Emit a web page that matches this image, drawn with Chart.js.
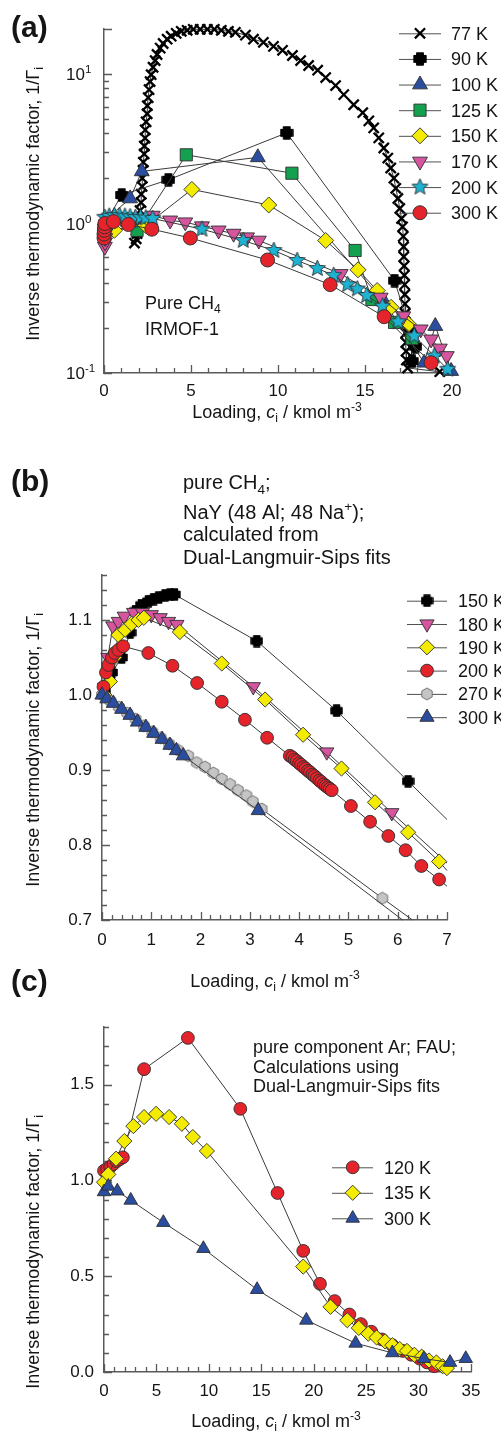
<!DOCTYPE html>
<html>
<head>
<meta charset="utf-8">
<script src="https://cdn.jsdelivr.net/npm/chart.js@4.4.1/dist/chart.umd.min.js"></script>
<style>
  html, body { margin: 0; padding: 0; background: #fff; }
  #wrap { position: relative; width: 501px; height: 1442px; overflow: hidden; background: #fff; }
  #wrap canvas { position: absolute; left: 0; top: 0; }
</style>
</head>
<body>
<div id="wrap">
  <canvas id="ca" width="501" height="1442"></canvas>
  <canvas id="cb" width="501" height="1442"></canvas>
  <canvas id="cc" width="501" height="1442"></canvas>
</div>
<script>
// ---------------------------------------------------------------
// Inverse thermodynamic factor 1/Γi versus loading ci
// (a) CH4 in IRMOF-1, (b) CH4 in NaY, (c) Ar in FAU
// ---------------------------------------------------------------

// ---- panel (a): pure CH4, IRMOF-1  [loading, 1/Γ]
const aLabels = ['77 K', '90 K', '100 K', '125 K', '150 K', '170 K', '200 K', '300 K'];
const a77K = [[1.75,0.74],[1.85,0.79],[1.90,0.857],[1.96,0.954],[2.02,1.08],[2.07,1.22],[2.13,1.38],[2.14,1.57],
  [2.19,1.77],[2.20,2.01],[2.25,2.27],[2.26,2.57],[2.31,2.92],[2.32,3.30],[2.36,3.73],[2.37,4.23],[2.42,4.79],
  [2.48,5.42],[2.49,6.14],[2.54,6.95],[2.59,7.86],[2.65,8.9],[2.71,9.9],[2.82,11.1],[2.94,12.3],[3.05,13.5],
  [3.23,14.9],[3.40,16.0],[3.63,17.1],[3.86,17.9],[4.15,18.7],[4.44,19.3],[4.78,19.6],[5.13,19.9],[5.53,19.9],
  [5.94,19.9],[6.34,19.9],[6.74,19.6],[7.15,19.3],[7.55,19.0],[8.13,18.2],[8.59,17.1],[9.16,16.3],[9.74,15.3],
  [10.26,14.4],[10.83,13.3],[11.30,12.3],[11.76,11.4],[12.28,10.6],[12.74,9.47],[13.31,8.37],[13.78,7.28],
  [14.35,6.23],[14.87,5.51],[15.22,4.86],[15.50,4.36],[15.79,3.74],[16.08,3.20],[16.31,2.74],[16.48,2.35],
  [16.66,2.01],[16.77,1.72],[16.89,1.47],[17.00,1.26],[17.10,1.08],[17.16,0.95],[17.20,0.82],[17.22,0.70],
  [17.23,0.60],[17.25,0.52],[17.26,0.45],[17.28,0.39],[17.29,0.335],[17.30,0.29],[17.31,0.25],[17.33,0.215],
  [17.34,0.185],[17.35,0.16],[17.36,0.14],[17.38,0.122],[17.45,0.108],[19.3,0.102]];
const a90K = [[0.05,1.0],[1.02,1.55],[3.7,1.96],[10.5,4.04],[16.7,0.415],[17.6,0.19],[17.7,0.12],[17.9,0.15]];
const a100K = [[0.05,1.05],[1.5,1.47],[2.17,2.23],[8.84,2.77],[16.1,0.30],[18.4,0.117],[19.04,0.206],[19.95,0.103]];
const a125K = [[0.1,0.95],[1.9,0.9],[4.73,2.88],[10.8,2.17],[14.43,0.66],[15.4,0.31],[16.7,0.218],[17.7,0.17]];
const a150K = [[0.1,0.93],[0.6,0.9],[2.4,0.97],[5.05,1.69],[9.47,1.33],[12.74,0.77],[14.6,0.49],[15.7,0.356],
  [16.5,0.275],[17.5,0.212]];
const a170K = [[0.05,0.70],[0.06,0.75],[0.07,0.80],[0.08,0.86],[0.1,0.92],[0.15,0.98],[0.4,1.05],[1.0,1.08],
  [1.8,1.1],[2.8,1.13],[3.8,1.05],[4.67,1.02],[5.63,0.96],[6.59,0.90],[7.45,0.856],[8.22,0.81],[8.9,0.77],
  [13.6,0.46],[15.9,0.32],[17.2,0.24],[18.2,0.196],[18.8,0.168],[19.3,0.146],[19.7,0.13]];
const a200K = [[0.05,1.10],[0.3,1.12],[0.6,1.13],[0.9,1.13],[1.2,1.12],[1.5,1.11],[1.8,1.10],[2.1,1.10],
  [2.4,1.09],[2.8,1.08],[5.63,0.916],[8.0,0.77],[9.76,0.66],[11.1,0.566],[12.26,0.50],[13.2,0.45],[14.0,0.39],
  [14.56,0.365],[15.1,0.33],[16.0,0.28],[16.9,0.22],[17.83,0.177],[18.98,0.13],[19.75,0.106]];
const a300K = [[0.0,0.80],[0.0,0.85],[0.02,0.90],[0.03,0.95],[0.05,1.0],[0.54,1.03],[1.4,0.985],[2.75,0.916],
  [4.96,0.80],[9.4,0.57],[13.0,0.39],[16.1,0.238],[18.8,0.117]];
const aXTicks = [0, 5, 10, 15, 20];
const aYDecades = [[0.1, '-1'], [1, '0'], [10, '1']];

// ---- panel (b): pure CH4, NaY  (third entry 0 = line end without symbol)
const bLabels = ['150 K', '180 K', '190 K', '200 K', '270 K', '300 K'];
const b150K = [[0.05,1.005],[0.2,1.03],[0.4,1.05],[0.57,1.083],[0.68,1.112],[0.8,1.12],[0.94,1.125],[1.05,1.128],
  [1.15,1.13],[1.28,1.133],[1.38,1.134],[1.47,1.134],[3.14,1.072],[4.76,0.979],[6.21,0.885],[7.0,0.834,0]];
const b180K = [[0.05,1.01],[0.12,1.05],[0.22,1.092],[0.33,1.098],[0.45,1.105],[0.64,1.11],[0.82,1.11],[1.0,1.107],
  [1.18,1.103],[1.35,1.098],[1.52,1.094],[3.07,1.011],[4.56,0.924],[5.88,0.843],[7.0,0.776,0]];
const b190K = [[0.05,1.0],[0.16,1.018],[0.25,1.05],[0.33,1.08],[0.47,1.087],[0.6,1.095],[0.74,1.10],[0.85,1.103],
  [1.58,1.084],[2.43,1.042],[3.31,0.994],[4.08,0.947],[4.86,0.902],[5.54,0.857],[6.21,0.817],[6.84,0.778],
  [7.0,0.766,0]];
const b200K = [[0.03,1.011],[0.08,1.03],[0.13,1.04],[0.2,1.05],[0.26,1.056],[0.33,1.06],[0.43,1.065],[0.94,1.056],
  [1.43,1.039],[1.93,1.016],[2.43,0.991],[2.9,0.967],[3.35,0.943],[3.81,0.919],[3.86,0.917],[3.91,0.914],
  [3.95,0.912],[4.0,0.909],[4.04,0.907],[4.09,0.904],[4.13,0.902],[4.18,0.899],[4.22,0.897],[4.27,0.894],
  [4.31,0.892],[4.36,0.889],[4.41,0.886],[4.45,0.884],[4.5,0.881],[4.54,0.879],[4.58,0.877],[4.62,0.875],
  [4.66,0.873],[5.05,0.852],[5.44,0.831],[5.81,0.812],[6.16,0.793],[6.48,0.772],[6.84,0.754],[7.0,0.745,0]];
const b270K = [[0.0,1.0],[0.17,0.992],[0.34,0.984],[0.51,0.976],[0.68,0.968],[0.85,0.959],[1.02,0.951],[1.19,0.943],
  [1.36,0.935],[1.53,0.927],[1.75,0.919],[1.92,0.910],[2.09,0.904],[2.26,0.896],[2.43,0.888],[2.6,0.881],
  [2.76,0.873],[2.93,0.866],[3.06,0.858],[3.24,0.848],[5.69,0.729],[6.3,0.7,0]];
const b300K = [[0.0,1.0],[0.1,0.995],[0.23,0.989],[0.4,0.981],[0.57,0.973],[0.72,0.964],[0.89,0.957],[1.05,0.949],
  [1.22,0.941],[1.38,0.933],[1.51,0.926],[1.65,0.919],[3.17,0.846],[6.1,0.7,0]];
const bXTicks = [0, 1, 2, 3, 4, 5, 6, 7];
const bYTicks = [0.7, 0.8, 0.9, 1.0, 1.1];

// ---- panel (c): pure Ar, FAU
const cLabels = ['120 K', '135 K', '300 K'];
const c120K = [[0,1.05],[0.3,1.06],[0.6,1.07],[0.9,1.085],[1.2,1.10],[1.5,1.11],[1.8,1.12],[3.82,1.58],[8.0,1.743],
  [13.0,1.373],[16.55,0.934],[19.0,0.632],[20.6,0.46],[22.0,0.37],[23.4,0.30],[24.5,0.25],[25.5,0.21],
  [26.5,0.17],[27.5,0.14],[28.5,0.11],[29.3,0.09],[30.1,0.07],[30.8,0.05],[31.5,0.03]];
const c135K = [[0,0.99],[0.41,1.031],[1.15,1.113],[1.94,1.205],[2.8,1.283],[3.82,1.33],[4.97,1.347],[6.21,1.33],
  [7.42,1.295],[8.47,1.226],[9.81,1.153],[19.0,0.55],[21.6,0.34],[23.2,0.27],[24.3,0.23],[25.2,0.2],[26.0,0.18],
  [26.8,0.16],[27.5,0.14],[28.2,0.12],[28.9,0.11],[29.6,0.09],[30.3,0.08],[31.0,0.06],[31.7,0.05],[32.3,0.03],
  [32.7,0.02]];
const c300K = [[0,0.94],[0.41,0.969],[1.27,0.944],[2.55,0.896],[5.66,0.78],[9.48,0.644],[14.6,0.43],[19.3,0.27],
  [24.0,0.15],[27.5,0.1],[30.5,0.07],[33.0,0.05],[34.5,0.07]];
const cXTicks = [0, 5, 10, 15, 20, 25, 30, 35];
const cYTicks = [0.0, 0.5, 1.0, 1.5];

// ---------------------------------------------------------------
const FONT = "'Liberation Sans', Arial, Helvetica, sans-serif";
const INK = '#151515';
const AXIS = '#5a5a5a';
const LINK = '#3a3a3a';
const EDGE = '#2e2e2e';
const RED = '#e5232b', YEL = '#f3ec00', GRN = '#13a14f', BLU = '#2b4d9f',
      MAG = '#d6559f', CYA = '#1db2d2', GRY = '#c5c5c5';

function markerImage(size, paint) {
  const c = document.createElement('canvas');
  c.width = size; c.height = size;
  paint(c.getContext('2d'), size / 2);
  return c;
}
function plusMark(size) {
  return markerImage(size, (g, m) => {
    const a = size * 0.23, L = m - 1;
    g.beginPath();
    g.moveTo(m - a, m - L); g.lineTo(m + a, m - L); g.lineTo(m + a, m - a); g.lineTo(m + L, m - a);
    g.lineTo(m + L, m + a); g.lineTo(m + a, m + a); g.lineTo(m + a, m + L); g.lineTo(m - a, m + L);
    g.lineTo(m - a, m + a); g.lineTo(m - L, m + a); g.lineTo(m - L, m - a); g.lineTo(m - a, m - a);
    g.closePath();
    g.fillStyle = '#000'; g.fill();
    g.lineJoin = 'round'; g.lineWidth = 1.4; g.strokeStyle = '#000'; g.stroke();
  });
}
function starMark(size, fill) {
  return markerImage(size, (g, m) => {
    const R = m - 1, r = R * 0.45;
    g.beginPath();
    for (let k = 0; k < 10; k++) {
      const ang = -Math.PI / 2 + k * Math.PI / 5, rr = k % 2 ? r : R;
      g.lineTo(m + rr * Math.cos(ang), m + rr * Math.sin(ang));
    }
    g.closePath();
    g.fillStyle = fill; g.fill();
    g.lineWidth = 0.9; g.strokeStyle = EDGE; g.stroke();
  });
}
function hexMark(size, fill) {
  return markerImage(size, (g, m) => {
    const R = m - 1;
    g.beginPath();
    for (let k = 0; k < 6; k++) {
      const ang = Math.PI / 2 + k * Math.PI / 3;
      g.lineTo(m + R * Math.cos(ang), m + R * Math.sin(ang));
    }
    g.closePath();
    g.fillStyle = fill; g.fill();
    g.lineWidth = 0.9; g.strokeStyle = '#6a6a6a'; g.stroke();
  });
}

// marker definitions per series
const aMarks = [
  { style: 'crossRot', r: 7.2, fill: '#000', stroke: '#000', bw: 2.3 },
  { style: plusMark(14), r: 7 },
  { style: 'triangle', r: 8.6, fill: BLU },
  { style: 'rect', r: 8.6, fill: GRN },
  { style: 'rectRot', r: 8, fill: YEL },
  { style: 'triangle', r: 8.6, rot: 180, fill: MAG },
  { style: starMark(19, CYA), r: 9 },
  { style: 'circle', r: 7, fill: RED }
];
const bMarks = [
  { style: plusMark(13), r: 6.5 },
  { style: 'triangle', r: 8.2, rot: 180, fill: MAG },
  { style: 'rectRot', r: 7.6, fill: YEL },
  { style: 'circle', r: 6.4, fill: RED },
  { style: hexMark(14, GRY), r: 7 },
  { style: 'triangle', r: 8.2, fill: BLU }
];
const cMarks = [
  { style: 'circle', r: 6.4, fill: RED },
  { style: 'rectRot', r: 7.6, fill: YEL },
  { style: 'triangle', r: 7.8, fill: BLU }
];

function dataset(label, pts, mk, i) {
  return {
    label,
    data: pts.map(p => ({ x: p[0], y: p[1], bare: p[2] === 0 })),
    showLine: true,
    borderColor: LINK,
    borderWidth: 1,
    tension: 0,
    clip: false,
    order: -i,
    pointStyle: mk.style,
    pointRadius: ctx => (ctx.raw && ctx.raw.bare) ? 0 : mk.r,
    pointHoverRadius: ctx => (ctx.raw && ctx.raw.bare) ? 0 : mk.r,
    pointRotation: mk.rot || 0,
    pointBackgroundColor: mk.fill || '#000',
    pointBorderColor: mk.stroke || EDGE,
    pointBorderWidth: mk.bw !== undefined ? mk.bw : 0.9
  };
}

// ---- text helpers: runs of [text, style], style '' | 'i' | 'sub' | 'sup'
function drawRich(ctx, parts, x, y, size, align, bold) {
  const segs = parts.map(([t, s]) => {
    const fs = (s === 'sub' || s === 'sup') ? size * 0.68 : size;
    const font = (s === 'i' ? 'italic ' : '') + (bold ? 'bold ' : '') + fs + 'px ' + FONT;
    ctx.font = font;
    return { t, s, font, w: ctx.measureText(t).width };
  });
  const total = segs.reduce((a, g) => a + g.w, 0);
  let cx = align === 'center' ? x - total / 2 : (align === 'right' ? x - total : x);
  ctx.textAlign = 'left';
  ctx.textBaseline = 'alphabetic';
  for (const g of segs) {
    ctx.font = g.font;
    const dy = g.s === 'sub' ? size * 0.24 : (g.s === 'sup' ? -size * 0.4 : 0);
    ctx.fillText(g.t, cx, y + dy);
    cx += g.w;
  }
}
function drawMarker(ctx, mk, x, y) {
  ctx.save();
  if (typeof mk.style !== 'string') {
    ctx.drawImage(mk.style, x - mk.style.width / 2, y - mk.style.height / 2);
    ctx.restore();
    return;
  }
  ctx.fillStyle = mk.fill || '#000';
  ctx.strokeStyle = mk.stroke || EDGE;
  ctx.lineWidth = mk.bw !== undefined ? mk.bw : 0.9;
  const r = mk.r;
  ctx.beginPath();
  if (mk.style === 'circle') {
    ctx.arc(x, y, r, 0, Math.PI * 2);
  } else if (mk.style === 'rect') {
    const s = r * Math.SQRT1_2;
    ctx.rect(x - s, y - s, 2 * s, 2 * s);
  } else if (mk.style === 'rectRot') {
    ctx.moveTo(x - r, y); ctx.lineTo(x, y - r); ctx.lineTo(x + r, y); ctx.lineTo(x, y + r); ctx.closePath();
  } else if (mk.style === 'triangle') {
    let a = (mk.rot || 0) * Math.PI / 180;
    for (let k = 0; k < 3; k++) {
      const px = x + Math.sin(a) * r, py = y - Math.cos(a) * r;
      if (k) ctx.lineTo(px, py); else ctx.moveTo(px, py);
      a += 2 * Math.PI / 3;
    }
    ctx.closePath();
  } else if (mk.style === 'crossRot') {
    const o = r * Math.SQRT1_2;
    ctx.moveTo(x - o, y - o); ctx.lineTo(x + o, y + o);
    ctx.moveTo(x + o, y - o); ctx.lineTo(x - o, y + o);
    ctx.stroke(); ctx.restore();
    return;
  }
  ctx.fill(); ctx.stroke();
  ctx.restore();
}

const Y_TITLE = [['Inverse thermodynamic factor, 1/\u0393', ''], ['i', 'sub']];
const X_TITLE = [['Loading, ', ''], ['c', 'i'], ['i', 'sub'], [' / kmol m', ''], ['-3', 'sup']];

function stepTicks(from, to, step, len) {
  const out = [];
  const n = Math.round((to - from) / step);
  for (let k = 0; k <= n; k++) out.push([+(from + k * step).toFixed(6), len]);
  return out;
}

// decorations: inward tick marks, texts, legend block
function decor(p) {
  return {
    id: 'decor',
    beforeDatasetsDraw(chart) {
      const ctx = chart.ctx, xs = chart.scales.x, ys = chart.scales.y, A = chart.chartArea;
      ctx.save();
      ctx.strokeStyle = AXIS;
      ctx.lineWidth = 1.3;
      ctx.beginPath();
      for (const [v, L] of p.xTicks) {
        const px = Math.round(xs.getPixelForValue(v)) + 0.5;
        ctx.moveTo(px, A.bottom); ctx.lineTo(px, A.bottom - L);
      }
      for (const [v, L] of p.yTicks) {
        const py = Math.round(ys.getPixelForValue(v)) + 0.5;
        ctx.moveTo(A.left, py); ctx.lineTo(A.left + L, py);
      }
      ctx.stroke();
      ctx.restore();
    },
    afterDraw(chart) {
      const ctx = chart.ctx, ys = chart.scales.y;
      ctx.save();
      ctx.fillStyle = INK;
      if (p.decadeLabels) {
        for (const [v, e] of p.decadeLabels) {
          const py = ys.getPixelForValue(v);
          drawRich(ctx, [['10', ''], [e, 'sup']], 66, py + 6, 17, 'left');
        }
      }
      for (const t of p.texts) {
        if (t.rot) {
          ctx.save();
          ctx.translate(t.x, t.y);
          ctx.rotate(-Math.PI / 2);
          drawRich(ctx, t.parts, 0, 0, t.size, 'center');
          ctx.restore();
        } else {
          drawRich(ctx, t.parts, t.x, t.y, t.size, t.align || 'left', t.bold);
        }
      }
      const L = p.legend;
      L.labels.forEach((lab, i) => {
        const y = L.y0 + i * L.dy;
        ctx.strokeStyle = '#505050';
        ctx.lineWidth = 1;
        ctx.beginPath();
        ctx.moveTo(L.x1, y + 0.5); ctx.lineTo(L.x2, y + 0.5);
        ctx.stroke();
        drawMarker(ctx, L.marks[i], L.xm, y);
        ctx.fillStyle = INK;
        ctx.font = '18px ' + FONT;
        ctx.textAlign = 'left';
        ctx.textBaseline = 'alphabetic';
        ctx.fillText(lab, L.xt, y + 6.5);
      });
      ctx.restore();
    }
  };
}

const W = 501, H = 1442, YW = 60, XH = 40;

function makeChart(id, area, xCfg, yCfg, sets, deco) {
  const tickFont = { family: FONT, size: 17 };
  return new Chart(document.getElementById(id), {
    type: 'scatter',
    data: { datasets: sets },
    options: {
      responsive: false,
      animation: false,
      events: [],
      layout: { padding: { left: area.left - YW, right: W - area.right, top: area.top, bottom: H - area.bottom - XH } },
      plugins: { legend: { display: false }, tooltip: { enabled: false } },
      scales: {
        x: {
          type: 'linear', min: xCfg.min, max: xCfg.max,
          afterFit: s => { s.height = XH; },
          afterBuildTicks: s => { s.ticks = xCfg.ticks.map(v => ({ value: v })); },
          ticks: { font: tickFont, color: INK, padding: xCfg.pad, maxRotation: 0, autoSkip: false, callback: v => String(v) },
          grid: { display: false, drawTicks: false },
          border: { display: true, color: AXIS, width: 1.5 }
        },
        y: Object.assign({
          min: yCfg.min, max: yCfg.max,
          afterFit: s => { s.width = YW; },
          grid: { display: false, drawTicks: false },
          border: { display: true, color: AXIS, width: 1.5 }
        }, yCfg.log ? {
          type: 'logarithmic',
          ticks: { display: false }
        } : {
          type: 'linear',
          afterBuildTicks: s => { s.ticks = yCfg.ticks.map(v => ({ value: v })); },
          ticks: { font: tickFont, color: INK, padding: 10, autoSkip: false, callback: v => v.toFixed(1) }
        })
      }
    },
    plugins: [decor(deco)]
  });
}

// ---- panel (a)
(function () {
  const series = [a77K, a90K, a100K, a125K, a150K, a170K, a200K, a300K];
  const sets = series.map((s, i) => dataset(aLabels[i], s, aMarks[i], i));
  const yt = [];
  [0.1, 1, 10].forEach(d => {
    yt.push([d, 8]);
    for (let k = 2; k <= 9; k++) if (d * k <= 20) yt.push([d * k, 5]);
  });
  yt.push([20, 8]);
  makeChart('ca', { left: 104, right: 452, top: 29, bottom: 373 },
    { min: 0, max: 20, ticks: aXTicks, pad: 8 },
    { min: 0.1, max: 20, log: true },
    sets,
    {
      xTicks: stepTicks(0, 20, 1, 5).map(([v, l]) => [v, v % 5 === 0 ? 8 : l]),
      yTicks: yt,
      decadeLabels: aYDecades,
      texts: [
        { parts: [['(a)', '']], x: 11, y: 37, size: 30, bold: true },
        { parts: Y_TITLE, x: 38.5, y: 204, size: 18, rot: true },
        { parts: X_TITLE, x: 277, y: 418, size: 18, align: 'center' },
        { parts: [['Pure CH', ''], ['4', 'sub']], x: 145, y: 308.5, size: 18 },
        { parts: [['IRMOF-1', '']], x: 145, y: 334.5, size: 18 }
      ],
      legend: { labels: aLabels, marks: aMarks, x1: 399, x2: 441, xm: 420, xt: 451, y0: 33.3, dy: 25.63 }
    });
})();

// ---- panel (b)
(function () {
  const series = [b150K, b180K, b190K, b200K, b270K, b300K];
  const sets = series.map((s, i) => dataset(bLabels[i], s, bMarks[i], i));
  makeChart('cb', { left: 102, right: 447, top: 575, bottom: 920 },
    { min: 0, max: 7, ticks: bXTicks, pad: 10 },
    { min: 0.7, max: 1.16, ticks: bYTicks },
    sets,
    {
      xTicks: stepTicks(0, 7, 0.2, 5).map(([v, l]) => [v, Math.abs(v - Math.round(v)) < 1e-6 ? 8 : l]),
      yTicks: stepTicks(0.7, 1.16, 0.02, 5).map(([v, l]) => [v, Math.abs(v * 10 - Math.round(v * 10)) < 1e-6 ? 8 : l]),
      texts: [
        { parts: [['(b)', '']], x: 11, y: 490.5, size: 30, bold: true },
        { parts: Y_TITLE, x: 38.5, y: 750, size: 18, rot: true },
        { parts: X_TITLE, x: 275, y: 986.5, size: 18, align: 'center' },
        { parts: [['pure CH', ''], ['4', 'sub'], [';', '']], x: 183, y: 489, size: 20 },
        { parts: [['NaY (48 Al; 48 Na', ''], ['+', 'sup'], [');', '']], x: 183, y: 518.5, size: 20 },
        { parts: [['calculated from', '']], x: 183, y: 541, size: 20 },
        { parts: [['Dual-Langmuir-Sips fits', '']], x: 183, y: 563.5, size: 20 }
      ],
      legend: { labels: bLabels, marks: bMarks, x1: 407, x2: 447, xm: 427, xt: 458, y0: 600.7, dy: 23.3 }
    });
})();

// ---- panel (c)
(function () {
  const series = [c120K, c135K, c300K];
  const sets = series.map((s, i) => dataset(cLabels[i], s, cMarks[i], i));
  makeChart('cc', { left: 104, right: 471, top: 1027, bottom: 1372 },
    { min: 0, max: 35, ticks: cXTicks, pad: 9 },
    { min: 0, max: 1.8, ticks: cYTicks },
    sets,
    {
      xTicks: stepTicks(0, 35, 1, 5).map(([v, l]) => [v, v % 5 === 0 ? 8 : l]),
      yTicks: stepTicks(0, 1.8, 0.1, 5).map(([v, l]) => [v, Math.abs(v * 2 - Math.round(v * 2)) < 1e-6 ? 8 : l]),
      texts: [
        { parts: [['(c)', '']], x: 11, y: 990.5, size: 30, bold: true },
        { parts: Y_TITLE, x: 38.5, y: 1252, size: 18, rot: true },
        { parts: X_TITLE, x: 276, y: 1427, size: 18, align: 'center' },
        { parts: [['pure component Ar; FAU;', '']], x: 253, y: 1053, size: 18 },
        { parts: [['Calculations using', '']], x: 253, y: 1072.5, size: 18 },
        { parts: [['Dual-Langmuir-Sips fits', '']], x: 253, y: 1092, size: 18 }
      ],
      legend: { labels: cLabels, marks: cMarks, x1: 332, x2: 373, xm: 352.7, xt: 384, y0: 1167.3, dy: 25.5 }
    });
})();
</script>
</body>
</html>
